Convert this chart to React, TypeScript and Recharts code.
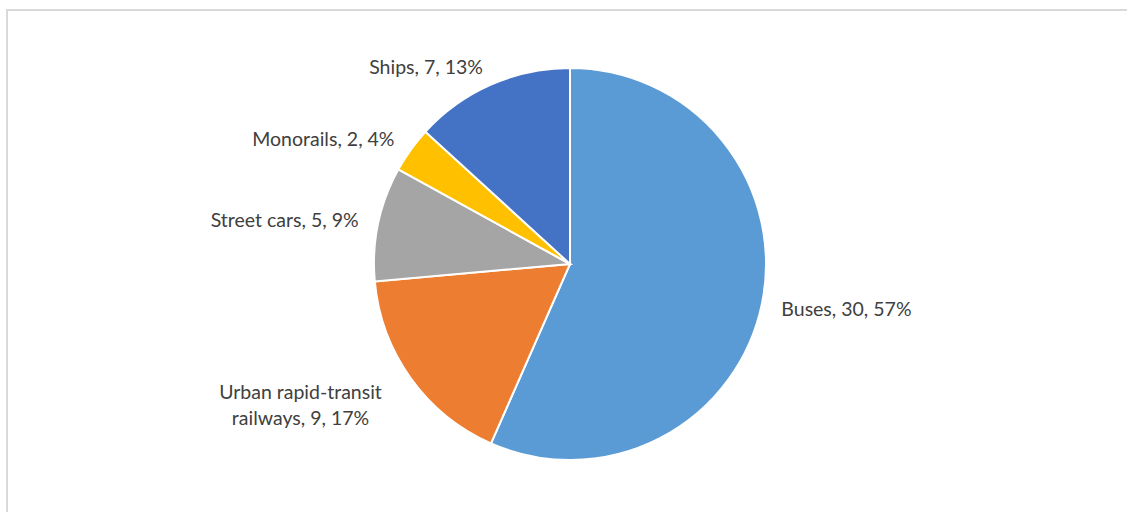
import React from 'react';
import { PieChart, Pie, Cell } from 'recharts';

const categories = ['Buses', 'Urban rapid-transit railways', 'Street cars', 'Monorails', 'Ships'];
const values = [30, 9, 5, 2, 7];
const colors = ['#5B9BD5', '#ED7D31', '#A5A5A5', '#FFC000', '#4472C4'];

const data = categories.map((name, i) => ({ name, value: values[i] }));

const RAD = Math.PI / 180;
const FONT = 'Lato, "Open Sans", sans-serif';
const FS = 19.5;

const renderLabel = (props: any) => {
  const { cx, cy, midAngle, outerRadius, name, value, percent } = props;
  const r = outerRadius + 20;
  const cos = Math.cos(-midAngle * RAD);
  const sin = Math.sin(-midAngle * RAD);
  const x = cx + r * cos;
  const y = cy + r * sin;
  const pct = Math.round(percent * 100);
  const full = `${name}, ${value}, ${pct}%`;
  const anchor = cos >= 0 ? 'start' : 'end';
  if (name.length > 20) {
    const words = name.split(' ');
    const line1 = words.slice(0, 2).join(' ');
    const line2 = `${words.slice(2).join(' ')}, ${value}, ${pct}%`;
    const cxText = x - 94;
    return (
      <text x={cxText} y={y + 14} textAnchor="middle" fill="#404040" fontSize={FS} fontFamily={FONT}>
        <tspan x={cxText} dy={-12.5} dominantBaseline="central">{line1}</tspan>
        <tspan x={cxText} dy={26} dominantBaseline="central">{line2}</tspan>
      </text>
    );
  }
  return (
    <text x={x} y={y} textAnchor={anchor} dominantBaseline="central" fill="#404040" fontSize={FS} fontFamily={FONT}>
      {full}
    </text>
  );
};

export default function App() {
  return (
    <div style={{ position: 'absolute', left: 0, top: 0, width: 1127, height: 512, overflow: 'hidden', background: '#fff' }}>
      <div
        style={{
          position: 'absolute',
          left: 6,
          top: 9,
          width: 1140,
          height: 520,
          border: '2px solid #d9d9d9',
          boxSizing: 'border-box',
        }}
      />
      <div style={{ position: 'absolute', left: 0, top: 0 }}>
        <PieChart width={1127} height={512} margin={{ top: 0, right: 0, bottom: 0, left: 0 }}>
          <Pie
            data={data}
            dataKey="value"
            nameKey="name"
            cx={570}
            cy={264}
            outerRadius={196}
            startAngle={90}
            endAngle={-270}
            stroke="#ffffff"
            strokeWidth={2}
            label={renderLabel}
            labelLine={false}
            isAnimationActive={false}
          >
            {data.map((d, i) => (
              <Cell key={d.name} fill={colors[i]} />
            ))}
          </Pie>
        </PieChart>
      </div>
    </div>
  );
}
